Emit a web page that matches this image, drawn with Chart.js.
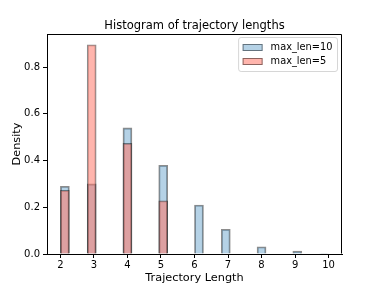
<!DOCTYPE html>
<html>
<head>
<meta charset="utf-8">
<script src="https://cdn.jsdelivr.net/npm/chart.js@4.4.1/dist/chart.umd.min.js"></script>
<style>
    html, body { margin: 0; padding: 0; background: #fff; }
    #chart { display: block; }
</style>
</head>
<body>
<canvas id="chart" width="381" height="286"></canvas>
<script>
// trajectory length -> density
var lengths = [2, 3, 4, 5, 6, 7, 8, 9, 10];
var densityLen10 = [0.290, 0.300, 0.540, 0.380, 0.210, 0.106, 0.031, 0.012, 0.002];
var densityLen5 = [0.273, 0.896, 0.474, 0.228];
var seriesNames = ['max_len=10', 'max_len=5'];
var yTicks = [0, 0.2, 0.4, 0.6, 0.8];

// histogram bins (30 bins over 2..10)
var binStart = 2, binEnd = 10, binCount = 30;
var binW = (binEnd - binStart) / binCount;

function binCenter(v) {
    var i = Math.min(binCount - 1, Math.floor((v - binStart) / binW + 1e-9));
    return binStart + (i + 0.5) * binW;
}

function toPoints(values) {
    return values.map(function (y, i) {
        return { x: binCenter(lengths[i]), y: y };
    });
}

var fontFamily = "'DejaVu Sans', 'Liberation Sans', sans-serif";

// frame on top/right + legend box in the upper right of the plot
var framePlugin = {
    id: 'frameAndLegend',
    afterDraw: function (chart) {
        var ctx = chart.ctx, a = chart.chartArea;
        ctx.save();
        ctx.strokeStyle = '#000';
        ctx.lineWidth = 1;
        ctx.beginPath();
        var l = Math.round(a.left) + 0.5, r = Math.round(a.right) - 0.5;
        var t = Math.round(a.top) + 0.5, b = Math.round(a.bottom) - 0.5;
        ctx.moveTo(l, t); ctx.lineTo(r, t); ctx.lineTo(r, b);
        ctx.stroke();

        // legend
        ctx.font = '9.8px ' + fontFamily;
        var textW = 0;
        seriesNames.forEach(function (n) { textW = Math.max(textW, ctx.measureText(n).width); });
        var boxW = 4 + 20 + 8 + textW + 5;
        var boxH = 34;
        var bx = a.right - 4.5 - boxW, by = a.top + 3.5;
        ctx.fillStyle = 'rgba(255,255,255,0.85)';
        ctx.strokeStyle = '#d6d6d6';
        ctx.lineWidth = 1;
        ctx.beginPath();
        if (ctx.roundRect) ctx.roundRect(bx, by, boxW, boxH, 2.5); else ctx.rect(bx, by, boxW, boxH);
        ctx.fill();
        ctx.stroke();

        var ds = chart.data.datasets;
        for (var i = 0; i < ds.length; i++) {
            var cy = by + 10 + i * 14;
            ctx.fillStyle = ds[i].backgroundColor;
            ctx.fillRect(bx + 4, cy - 3.5, 20, 7);
            ctx.strokeStyle = ds[i].borderColor;
            ctx.lineWidth = 1;
            ctx.strokeRect(bx + 4.5, cy - 3, 19, 6);
            ctx.fillStyle = '#000';
            ctx.textBaseline = 'middle';
            ctx.textAlign = 'left';
            ctx.fillText(ds[i].label, bx + 32, cy);
        }
        ctx.restore();
    }
};

var cfg = {
    type: 'bar',
    data: {
        datasets: [
            {
                label: seriesNames[0],
                data: toPoints(densityLen10),
                backgroundColor: 'rgba(31,119,180,0.33)',
                borderColor: 'rgba(0,0,0,0.45)',
                borderWidth: 1.2,
                order: 2
            },
            {
                label: seriesNames[1],
                data: toPoints(densityLen5),
                backgroundColor: 'rgba(255,120,105,0.55)',
                borderColor: 'rgba(0,0,0,0.45)',
                borderWidth: 1.2,
                order: 1
            }
        ]
    },
    options: {
        responsive: false,
        devicePixelRatio: 1,
        animation: false,
        grouped: false,
        barThickness: 9,
        layout: { padding: { left: 0, right: 39, top: 0, bottom: 0 } },
        plugins: {
            legend: { display: false },
            tooltip: { enabled: false },
            title: {
                display: true,
                text: 'Histogram of trajectory lengths',
                fullSize: false,
                color: '#000',
                font: { family: fontFamily, size: 11.5, weight: 'normal' },
                padding: { top: 19.6, bottom: 0.6 }
            }
        },
        scales: {
            x: {
                type: 'linear',
                min: 1.6,
                max: 10.4,
                offset: false,
                grid: { offset: false, drawOnChartArea: false, drawTicks: true, tickLength: 4, color: '#000' },
                border: { display: true, color: '#000', width: 1 },
                ticks: {
                    color: '#000',
                    font: { family: fontFamily, size: 10 },
                    padding: 1.5,
                    autoSkip: false,
                    maxRotation: 0
                },
                afterBuildTicks: function (scale) {
                    scale.ticks = lengths.map(function (v) { return { value: v }; });
                },
                afterFit: function (scale) { scale.height = 32; },
                title: {
                    display: true,
                    text: 'Trajectory Length',
                    color: '#000',
                    font: { family: fontFamily, size: 11.3 },
                    padding: { top: 0, bottom: 1.2 }
                }
            },
            y: {
                min: 0,
                max: 0.942,
                grid: { drawOnChartArea: false, drawTicks: true, tickLength: 4, color: '#000' },
                border: { display: true, color: '#000', width: 1 },
                ticks: {
                    color: '#000',
                    font: { family: fontFamily, size: 10 },
                    padding: 3,
                    callback: function (v) { return Number(v).toFixed(1); }
                },
                afterBuildTicks: function (scale) {
                    scale.ticks = yTicks.map(function (v) { return { value: v }; });
                },
                afterFit: function (scale) { scale.width = 47; },
                title: {
                    display: true,
                    text: 'Density',
                    color: '#000',
                    font: { family: fontFamily, size: 11.3 },
                    padding: { top: 10, bottom: 0 }
                }
            }
        }
    },
    plugins: [framePlugin]
};

var histChart = new Chart(document.getElementById('chart'), cfg);
</script>
</body>
</html>
